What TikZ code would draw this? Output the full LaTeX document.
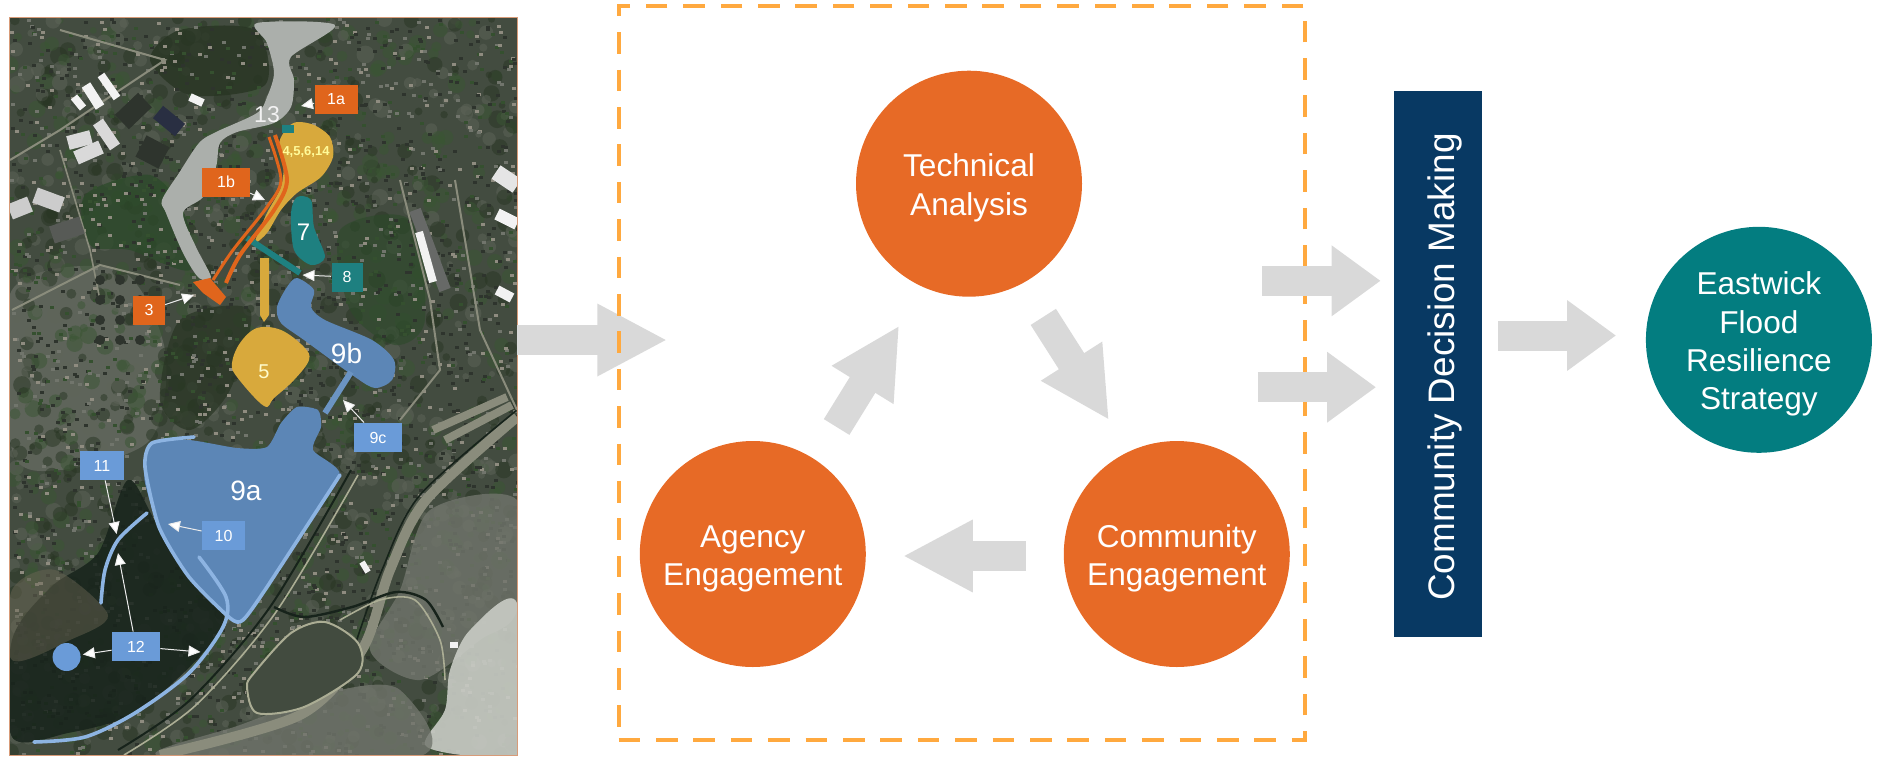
\documentclass[tikz,border=0pt]{standalone}
\usepackage{fontspec}
\setmainfont{Liberation Sans}
\usetikzlibrary{arrows.meta}
\definecolor{stageorange}{HTML}{E76A26}
\definecolor{scopeorange}{HTML}{FFA93F}
\definecolor{flowgray}{HTML}{D9D9D9}
\definecolor{decisionblue}{HTML}{083963}
\definecolor{strategyteal}{HTML}{037D80}
\definecolor{aerialedge}{HTML}{D89B78}
\definecolor{aerialbase}{HTML}{434C40}
\definecolor{streamgray}{HTML}{ABAFAB}
\definecolor{basinyellow}{HTML}{D8A93C}
\definecolor{channelorange}{HTML}{E0651C}
\definecolor{buffteal}{HTML}{1E8080}
\definecolor{basinblue}{HTML}{5C86B6}
\definecolor{edgeblue}{HTML}{8DB4E2}
\definecolor{tagblue}{HTML}{6A9BD8}
\definecolor{marshgreen}{HTML}{17231B}
\definecolor{woodgreen}{HTML}{2C4A2A}
\definecolor{roadgray}{HTML}{8A8C7C}
\definecolor{rampbeige}{HTML}{ABAD94}
\definecolor{tarmac}{HTML}{C9CCC5}
\definecolor{speckone}{HTML}{2E342D}
\definecolor{specktwo}{HTML}{71756C}
\definecolor{speckthree}{HTML}{35502F}
\definecolor{speckfour}{HTML}{8F8C80}
\definecolor{mottleone}{HTML}{283523}
\definecolor{mottletwo}{HTML}{5E6459}
\definecolor{mottlethree}{HTML}{3A5633}
\pgfmathdeclarerandomlist{specks}{{speckone}{specktwo}{speckthree}{speckfour}{speckone}}
\pgfmathdeclarerandomlist{mottles}{{mottleone}{mottletwo}{mottlethree}}
\newcommand{\stagetext}[1]{\raisebox{-2.4pt}[\height][\depth]{\begin{tabular}{@{}c@{}}#1\end{tabular}}}
\begin{document}
\begin{tikzpicture}[x=.5pt,y=-.5pt,
      stagecircle/.style={circle,text=white,minimum size=113pt,inner sep=0pt,
          font=\fontsize{15.8}{19.2}\selectfont},
      flowarrow/.style={line width=15pt,draw=flowgray,-{Triangle[length=35pt,width=33.7pt]}},
      shortflow/.style={line width=15pt,draw=flowgray,-{Triangle[length=24.5pt,width=33.7pt]}},
      maptag/.style={text=white,inner sep=0pt,minimum height=14.5pt,font=\fontsize{8}{8}\selectfont},
      mapname/.style={inner sep=0pt,text=white},
      pointer/.style={draw=white!85!gray,line width=.5pt,-{Triangle[length=6pt,width=5.5pt,fill=white]}},
      building/.style={line width=#1,draw=white!90!gray},
      building/.default=4pt,
      road/.style={draw=roadgray,line width=#1},
      road/.default=1pt]
    \useasboundingbox (0,0) rectangle (1878,756);

    \node[fill=aerialbase,minimum width=253.5pt,minimum height=368.5pt,inner sep=0pt] (aerial) at (263.5,386.5) {};
    \begin{scope}
        \clip (aerial.north west) rectangle (aerial.south east);
        \fill[specktwo,opacity=.6] plot[smooth cycle] coordinates {(12,290) (120,270) (165,350) (150,440) (60,470) (12,450)};
        \pgfmathsetseed{11}
        \foreach \i in {1,...,1600}{
            \pgfmathsetmacro\mottlex{10+507*rnd}
            \pgfmathsetmacro\mottley{18+737*rnd}
            \pgfmathsetmacro\mottlesize{1.5+3*rnd}
            \pgfmathrandomitem{\mottlecolor}{mottles}
            \fill[\mottlecolor,opacity=.5] (\mottlex,\mottley) circle[radius=\mottlesize pt];
        }
        \fill[woodgreen,opacity=.75] plot[smooth cycle] coordinates {(85,195) (150,175) (185,215) (190,270) (130,250) (90,245)};
        \fill[mottleone,opacity=.8] plot[smooth cycle] coordinates {(180,30) (255,30) (265,85) (190,95) (150,60)};
        \fill[woodgreen,opacity=.6] plot[smooth cycle] coordinates {(340,230) (410,220) (425,320) (395,345) (350,310)};
        \fill[mottleone,opacity=.7] plot[smooth cycle] coordinates {(180,320) (250,310) (230,390) (190,430) (160,400)};
        \foreach \i in {1,...,3000}{
            \pgfmathsetmacro\speckx{10+507*rnd}
            \pgfmathsetmacro\specky{18+737*rnd}
            \pgfmathrandomitem{\speckcolor}{specks}
            \fill[\speckcolor] (\speckx,\specky) rectangle +(4,3);
        }
        \fill[specktwo,opacity=.8] plot[smooth cycle] coordinates {(517,500) (430,510) (400,590) (370,650) (420,680) (480,640) (517,610)};
        \fill[tarmac,opacity=.9] plot[smooth cycle] coordinates {(517,603) (470,630) (450,670) (445,710) (425,745) (470,756) (517,756)};
        \fill[specktwo,opacity=.8] plot[smooth cycle] coordinates {(160,756) (240,725) (340,690) (400,690) (420,756)};
        \fill[marshgreen,opacity=.85] plot[smooth cycle,tension=.5] coordinates {(128,480) (159,527) (223,613) (199,657) (135,713) (68,733) (12,737) (12,640) (51,587) (98,553)};
        \fill[mottletwo!85!brown,opacity=.45] plot[smooth cycle] coordinates {(12,590) (55,570) (108,615) (70,640) (12,660)};
        \draw[road=1pt,marshgreen] plot[smooth] coordinates {(351,470) (270,607) (190,700) (118,750)};
        \draw[rampbeige,line width=.8pt] plot[smooth] coordinates {(358,475) (276,612) (196,705) (124,755)};
        \draw[road=5pt] plot[smooth] coordinates {(517,417) (426,500) (390,570) (362,650) (300,715) (160,755)};
        \draw[marshgreen,line width=.8pt] plot[smooth] coordinates {(517,410) (420,495) (382,570) (355,645)};
        \fill[mottleone!70!gray] plot[smooth cycle] coordinates {(254,673) (291,633) (325,622) (358,643) (358,673) (304,707) (257,713) (247,687)};
        \draw[rampbeige,line width=1pt] plot[smooth cycle] coordinates {(254,673) (291,633) (325,622) (358,643) (358,673) (304,707) (257,713) (247,687)};
        \draw[marshgreen,line width=1.2pt] plot[smooth] coordinates {(274,607) (304,617) (352,607) (396,592) (426,600) (443,627)};
        \draw[rampbeige,line width=.8pt] plot[smooth] coordinates {(340,620) (380,600) (415,600) (440,640) (445,680)};
        \draw[road=4pt] (433,430) -- (507,397);
        \draw[road=4pt] (445,440) -- (512,405);
        \draw[road=1pt] (60,30) -- (165,60) -- (60,130) -- (10,160);
        \draw[road=1pt] (400,180) -- (430,300) -- (440,370) -- (400,420);
        \draw[road=1pt] (455,180) -- (480,330) -- (517,410);
        \draw[road=1pt] (12,310) -- (100,265) -- (180,285);
        \draw[road=.8pt] (60,150) -- (90,250) -- (100,300);
        \draw[building] (101,75) -- (117,98);
        \draw[building] (74,97) -- (83,108);
        \draw[building=5pt] (86,85) -- (100,107);
        \draw[building=4pt] (190,97) -- (203,103);
        \draw[building=7pt,white!70!gray] (68,143) -- (91,137);
        \draw[building=7pt,white!70!gray] (76,158) -- (101,147);
        \draw[building=6pt,white!70!gray] (98,122) -- (115,147);
        \draw[building=12pt,speckone] (141,146) -- (164,158);
        \draw[building=10pt,speckone] (122,122) -- (145,100);
        \draw[building=8pt,speckone!90!blue] (158,112) -- (180,130);
        \draw[building=8pt,white!60!gray] (35,195) -- (62,205);
        \draw[building=8pt,white!60!gray] (10,212) -- (30,204);
        \draw[building=9pt,speckone!50!gray] (52,235) -- (82,225);
        \draw[building=6pt,speckone!30!gray] (415,210) -- (445,290);
        \draw[building=4pt] (419,232) -- (433,282);
        \draw[building=5pt] (497,290) -- (512,298);
        \draw[building=6pt] (497,214) -- (517,224);
        \draw[building=8pt,white!80!gray] (496,172) -- (517,186);
        \draw[building=3pt] (362,562) -- (368,572);
        \draw[building=3pt] (450,645) -- (458,645);
        \foreach \tankx in {100,120,140}
            \foreach \tanky in {280,300,320,340}
                \fill[speckone] (\tankx,\tanky) circle[radius=2.5pt];
    \end{scope}
    \draw[aerialedge,line width=.8pt] (aerial.north west) rectangle (aerial.south east);

    \fill[streamgray] plot[smooth cycle,tension=.5] coordinates {(257,23) (335,25) (291,57) (294,80) (291,107) (274,123) (237,132) (220,143) (216,167) (203,197) (183,213) (196,247) (211,277) (199,278) (183,253) (166,213) (162,200) (179,173) (199,143) (216,132) (257,113) (267,97) (274,73) (267,43)};
    \fill[basinyellow] plot[smooth cycle,tension=.5] coordinates {(297,122) (314,125) (330,137) (333,157) (321,177) (297,193) (281,210) (267,233) (255,242) (267,213) (281,187) (284,160) (279,143) (287,128)};
    \fill[basinyellow] (260,258) -- (269,258) -- (269,315) -- (264,322) -- (260,315) -- cycle;
    \fill[basinyellow] plot[smooth cycle,tension=.6] coordinates {(257,328) (281,330) (304,347) (309,360) (294,380) (274,398) (264,406) (237,377) (232,363) (240,343)};
    \fill[buffteal] plot[smooth cycle,tension=.5] coordinates {(297,197) (311,200) (314,227) (325,257) (311,265) (294,250) (291,213)};
    \draw[buffteal,line width=3pt] (247,238) -- (300,273);
    \fill[buffteal] (282,125) rectangle (294,133);
    \draw[channelorange,line width=1.5pt] plot[smooth] coordinates {(269,137) (281,180) (267,207) (233,250) (213,280)};
    \draw[channelorange,line width=2pt] plot[smooth] coordinates {(275,135) (287,180) (274,210) (240,255) (226,283)};
    \fill[channelorange] (193,282) -- (210,278) -- (226,297) -- (220,305) -- (203,293) -- cycle;
    \fill[basinblue] plot[smooth cycle,tension=.5] coordinates {(297,278) (314,290) (311,307) (325,320) (372,340) (394,360) (392,380) (375,388) (355,377) (304,340) (281,323) (277,307) (287,287)};
    \draw[basinblue!70!edgeblue,line width=3pt] (351,372) -- (325,413);
    \fill[basinblue] plot[smooth cycle,tension=.4] coordinates {(145,458) (152,443) (189,440) (237,448) (267,447) (281,423) (297,407) (318,410) (321,427) (313,450) (340,475) (304,530) (267,587) (243,620) (230,618) (189,577) (159,527) (145,483)};
    \draw[edgeblue,line width=1.8pt,line cap=round] plot[smooth,tension=.4] coordinates {(194,437) (152,443) (145,467) (159,527) (189,577) (230,618) (243,620) (267,587) (340,475)};
    \draw[edgeblue,line width=1.8pt,line cap=round] plot[smooth] coordinates {(34,742) (85,737) (135,713) (189,673) (223,627) (226,597) (199,557)};
    \draw[edgeblue,line width=1.8pt,line cap=round] plot[smooth] coordinates {(101,603) (105,570) (118,540) (147,513)};
    \node[circle,fill=tagblue,minimum size=14pt,inner sep=0pt] (pond) at (66.6,657) {};

    \node[mapname,text=white!90!gray,font=\fontsize{11.5}{12}\selectfont] (namethirteen) at (267,115) {13};
    \node[mapname,text=yellow!40!white,font=\bfseries\fontsize{6.5}{7}\selectfont] (namecluster) at (306,152) {4,5,6,14};
    \node[mapname,text=yellow!20!white,font=\fontsize{10}{10}\selectfont] (namefive) at (264,372) {5};
    \node[mapname,font=\fontsize{12}{12}\selectfont] (nameseven) at (303.6,232) {7};
    \node[mapname,font=\fontsize{14}{14}\selectfont] (namenineb) at (346.5,353) {9b};
    \node[mapname,font=\fontsize{14}{14}\selectfont] (namenine) at (246,491) {9a};

    \node[maptag,fill=channelorange,minimum width=21.5pt] (tagonea) at (336,99) {1a};
    \node[maptag,fill=channelorange,minimum width=23.7pt] (tagoneb) at (226,182) {1b};
    \node[maptag,fill=channelorange,minimum width=15.7pt] (tagthree) at (149,310) {3};
    \node[maptag,fill=buffteal,minimum width=15.5pt] (tageight) at (347,277) {8};
    \node[maptag,fill=tagblue,minimum width=21.7pt] (tageleven) at (102,465.5) {11};
    \node[maptag,fill=tagblue,minimum width=24pt] (tagninec) at (378,437.5) {9c};
    \node[maptag,fill=tagblue,minimum width=21.5pt] (tagten) at (223.5,535.5) {10};
    \node[maptag,fill=tagblue,minimum width=24pt] (tagtwelve) at (136,646.5) {12};

    \coordinate (spotonea) at (301,106);
    \coordinate (spotoneb) at (265,200);
    \coordinate (spotthree) at (194,295);
    \coordinate (spoteight) at (302.5,275);
    \coordinate (spotninec) at (343,400);
    \coordinate (spotten) at (168,524);
    \coordinate (spoteleven) at (116.6,534);
    \coordinate (spotcurve) at (118,553);
    \coordinate (spotlong) at (200.5,652);
    \draw[pointer] (tagonea) -- (spotonea);
    \draw[pointer] (tagoneb) -- (spotoneb);
    \draw[pointer] (tagthree) -- (spotthree);
    \draw[pointer] (tageight) -- (spoteight);
    \draw[pointer] (tagninec) -- (spotninec);
    \draw[pointer] (tagten) -- (spotten);
    \draw[pointer] (tageleven) -- (spoteleven);
    \draw[pointer] (tagtwelve) -- (spotcurve);
    \draw[pointer] (tagtwelve) -- (spotlong);
    \draw[pointer,shorten >=1pt] (tagtwelve) -- (pond);

    \coordinate (scopeinlet) at (667.3,340);
    \draw[flowarrow] (aerial.east |- scopeinlet) -- (scopeinlet);

    \node[draw=scopeorange,line width=2.1pt,dash pattern=on 10.8pt off 7.9pt,minimum width=343pt,minimum height=366.9pt,inner sep=0pt] (scopebox) at (961.65,373.15) {};

    \node[stagecircle,fill=stageorange] (technical) at (969,183.7) {\stagetext{Technical\\Analysis}};
    \node[stagecircle,fill=stageorange] (community) at (1176.8,554) {\stagetext{Community\\Engagement}};
    \node[stagecircle,fill=stageorange] (agency) at (752.8,554) {\stagetext{Agency\\Engagement}};
    \node[stagecircle,fill=strategyteal] (strategy) at (1758.9,339.8) {\stagetext{Eastwick\\Flood\\Resilience\\Strategy}};
    \node[fill=decisionblue,text=white,minimum width=44pt,minimum height=273pt,inner sep=0pt,font=\fontsize{18.45}{19}\selectfont] (decision) at (1437.9,364) {\rotatebox{90}{\raisebox{-3.6pt}[\height][\depth]{Community Decision Making\hspace{3pt}}}};

    \draw[flowarrow,shorten <=19.6pt,shorten >=18.4pt] (technical.-62.2) -- (community.115.5);
    \draw[flowarrow,shorten <=18.8pt,shorten >=18.3pt] (community.181.5) -- (agency.-1.5);
    \draw[flowarrow,shorten <=19.4pt,shorten >=22.4pt] (agency.56.9) -- (technical.246.7);

    \coordinate (scopeupper) at (1262,280.8);
    \coordinate (scopelower) at (1257.9,387.2);
    \coordinate (decisionout) at (1498,335.5);
    \draw[shortflow,shorten >=6.4pt] (scopeupper) -- (scopeupper -| decision.west);
    \draw[shortflow,shorten >=8.7pt] (scopelower) -- (scopelower -| decision.west);
    \draw[shortflow,shorten >=14.7pt] (decisionout) -- (decisionout -| strategy.west);
\end{tikzpicture}
\end{document}
